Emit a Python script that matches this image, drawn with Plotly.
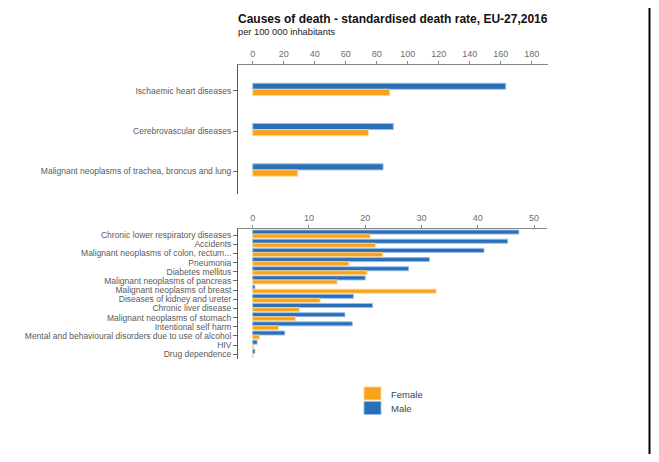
import plotly.graph_objects as go

# page body adds an 8px offset; the figure is sized to fit the window
OFF = 8
W, H = 651, 446

title = "Causes of death - standardised death rate, EU-27,2016"
subtitle = "per 100 000 inhabitants"

top_causes = ["Ischaemic heart diseases", "Cerebrovascular diseases",
              "Malignant neoplasms of trachea, broncus and lung"]
top_male = [163.2, 90.7, 84.1]
top_female = [88.4, 74.6, 29.0]

bottom_causes = ["Chronic lower respiratory diseases", "Accidents",
                 "Malignant neoplasms of colon, rectum...", "Pneumonia",
                 "Diabetes mellitus", "Malignant neoplasms of pancreas",
                 "Malignant neoplasms of breast", "Diseases of kidney and ureter",
                 "Chronic liver disease", "Malignant neoplasms of stomach",
                 "Intentional self harm",
                 "Mental and behavioural disorders due to use of alcohol",
                 "HIV", "Drug dependence"]
bottom_male = [47.3, 45.3, 41.1, 31.4, 27.7, 20.0, 0.4, 17.9, 21.3, 16.4, 17.7, 5.7, 0.8, 0.4]
bottom_female = [20.9, 21.8, 23.1, 17.1, 20.3, 15.0, 32.6, 12.0, 8.3, 7.6, 4.6, 1.2, 0.2, 0.1]

top_ticks = [0, 20, 40, 60, 80, 100, 120, 140, 160, 180]
bottom_ticks = [0, 10, 20, 30, 40, 50]

series_names = ["Female", "Male"]

MALE = "#2a6fb8"
FEMALE = "#f9a21c"
MALE_EDGE = "rgba(150,190,230,0.9)"
FEMALE_EDGE = "rgba(253,215,150,0.9)"
FONT = "Liberation Sans, Arial, sans-serif"


def px(x):
    return (x - OFF) / W


def py(y):
    return 1 - (y - OFF) / H


fig = go.Figure()

fig.add_trace(go.Bar(y=top_causes, x=top_male, orientation="h", name="Male",
                     marker=dict(color=MALE, line=dict(color=MALE_EDGE, width=1)),
                     offset=-0.185, width=0.15, xaxis="x", yaxis="y", showlegend=False))
fig.add_trace(go.Bar(y=top_causes, x=top_female, orientation="h", name="Female",
                     marker=dict(color=FEMALE, line=dict(color=FEMALE_EDGE, width=1)),
                     offset=-0.035, width=0.155, xaxis="x", yaxis="y", showlegend=False))
fig.add_trace(go.Bar(y=bottom_causes, x=bottom_male, orientation="h", name="Male",
                     marker=dict(color=MALE, line=dict(color=MALE_EDGE, width=1)),
                     offset=-0.54, width=0.44, xaxis="x2", yaxis="y2", showlegend=False))
fig.add_trace(go.Bar(y=bottom_causes, x=bottom_female, orientation="h", name="Female",
                     marker=dict(color=FEMALE, line=dict(color=FEMALE_EDGE, width=1)),
                     offset=-0.1, width=0.44, xaxis="x2", yaxis="y2", showlegend=False))

xax_common = dict(side="top", showgrid=False, zeroline=False, showline=True,
                  linecolor="#8a8a8a", linewidth=1, ticks="outside", ticklen=3,
                  tickcolor="#8a8a8a", tickfont=dict(family=FONT, size=9, color="#6e6e6e"),
                  automargin=False, fixedrange=True, tickmode="array")
yax_common = dict(showgrid=False, zeroline=False, showline=True, linecolor="#555555",
                  linewidth=1, ticks="outside", ticklen=4, tickcolor="#666666",
                  tickfont=dict(family=FONT, size=8.5, color="#5a5a5a"),
                  automargin=False, fixedrange=True, type="category", tickmode="array")

# manual legend (Female, Male)
legend_colors = {"Female": (FEMALE, FEMALE_EDGE), "Male": (MALE, MALE_EDGE)}
legend_shapes = []
legend_annots = []
for i, name in enumerate(series_names):
    y0 = 387 + i * 14.5
    fill, edge = legend_colors[name]
    legend_shapes.append(dict(type="rect", xref="paper", yref="paper",
                              x0=px(364), x1=px(381), y0=py(y0 + 13), y1=py(y0),
                              fillcolor=fill, line=dict(color=edge, width=1)))
    legend_annots.append(dict(text=name, x=px(389), y=py(y0 + 7), xref="paper", yref="paper",
                              xanchor="left", yanchor="middle", showarrow=False,
                              font=dict(family=FONT, size=9.5, color="#444444")))

fig.update_layout(
    width=W, height=H, autosize=False,
    template="none",
    margin=dict(l=0, r=0, t=0, b=0, pad=0),
    paper_bgcolor="white", plot_bgcolor="rgba(0,0,0,0)",
    barmode="overlay",
    showlegend=False,
    font=dict(family=FONT, size=10, color="#333333"),
    xaxis=dict(xax_common, domain=[px(238), px(548)], range=[-9.5, 190.5],
               tickvals=top_ticks, anchor="y"),
    yaxis=dict(yax_common, domain=[py(194), py(65)], range=[2.563, -0.638],
               tickvals=top_causes, ticktext=top_causes, anchor="x"),
    xaxis2=dict(xax_common, domain=[px(238), px(547)], range=[-2.6, 52.3],
                tickvals=bottom_ticks, anchor="y2"),
    yaxis2=dict(yax_common, domain=[py(359), py(228.7)], range=[13.51, -0.686],
                tickvals=bottom_causes, ticktext=bottom_causes, anchor="x2"),
    annotations=[
        dict(text="<b>" + title + "</b>", x=px(235.5), y=py(19), xref="paper", yref="paper",
             xanchor="left", yanchor="middle", showarrow=False,
             font=dict(family=FONT, size=12, color="#111111")),
        dict(text=subtitle, x=px(235.5), y=py(32), xref="paper", yref="paper",
             xanchor="left", yanchor="middle", showarrow=False,
             font=dict(family=FONT, size=9.3, color="#222222")),
    ] + legend_annots,
    shapes=[
        dict(type="rect", xref="paper", yref="paper", x0=px(648.5), x1=px(650.5),
             y0=-0.05, y1=1.05, fillcolor="black", line=dict(width=0), layer="above"),
    ] + legend_shapes,
)

fig.write_html("out.html")
